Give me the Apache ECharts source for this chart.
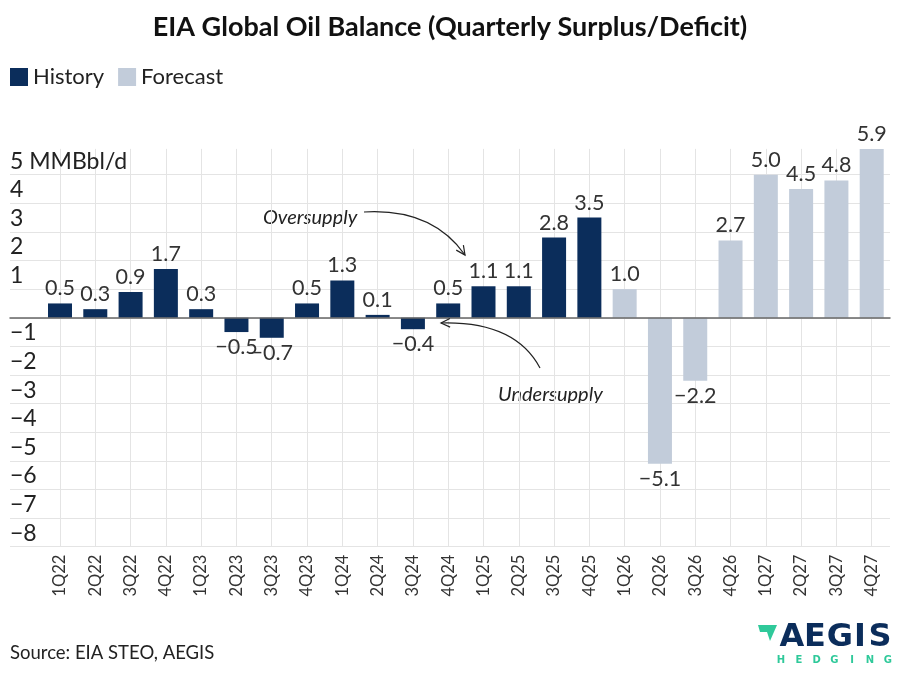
<!DOCTYPE html>
<html>
<head>
<meta charset="utf-8">
<script src="https://cdn.jsdelivr.net/npm/echarts@6/dist/echarts.min.js"></script>
<style>
  html, body { margin: 0; padding: 0; background: #fff; }
  #main { width: 900px; height: 675px; }
</style>
</head>
<body>
<div id="main"></div>
<script>
// quarters
var quarters = ['1Q22', '2Q22', '3Q22', '4Q22', '1Q23', '2Q23', '3Q23', '4Q23',
    '1Q24', '2Q24', '3Q24', '4Q24', '1Q25', '2Q25', '3Q25', '4Q25',
    '1Q26', '2Q26', '3Q26', '4Q26', '1Q27', '2Q27', '3Q27', '4Q27'];
// history values (MMBbl/d), '-' = no value
var historyVals = [0.5, 0.3, 0.9, 1.7, 0.3, -0.5, -0.7, 0.5,
    1.3, 0.1, -0.4, 0.5, 1.1, 1.1, 2.8, 3.5,
    '-', '-', '-', '-', '-', '-', '-', '-'];
// forecast values
var forecastVals = ['-', '-', '-', '-', '-', '-', '-', '-',
    '-', '-', '-', '-', '-', '-', '-', '-',
    1.0, -5.1, -2.2, 2.7, 5.0, 4.5, 4.8, 5.9];
// y ticks
var yMin = -8, yTop = 5, yMax = 5.9;

var FONT = 'Lato';
var HIST_COLOR = '#0b2d5b';
var FC_COLOR = '#c2ccda';

function fmt(v) {
    return v.toFixed(1).replace('-', '\u2212');
}
// label below bar when negative
function toItems(arr) {
    return arr.map(function (v) {
        if (v === '-') return '-';
        return {
            value: v,
            label: {position: v < 0 ? 'bottom' : 'top'}
        };
    });
}

// arrowhead at end of quadratic curve
function arrowHead(x2, y2, cx, cy) {
    var a = Math.atan2(y2 - cy, x2 - cx);
    var L = 10, s = 0.45;
    return {
        type: 'polyline',
        z: 10,
        shape: {points: [
            [x2 - L * Math.cos(a - s), y2 - L * Math.sin(a - s)],
            [x2, y2],
            [x2 - L * Math.cos(a + s), y2 - L * Math.sin(a + s)]
        ]},
        style: {stroke: '#222', lineWidth: 1.2, fill: null}
    };
}

var chart = echarts.init(document.getElementById('main'));

var gridBottom = 128.3;

// logo letters
var logoLetters = [['A', 792], ['E', 815], ['G', 840], ['I', 860], ['S', 880]];
var subLetters = 'HEDGING'.split('');
var logo = [];
logoLetters.forEach(function (p) {
    logo.push({
        type: 'text', x: p[1], y: 622,
        style: {text: p[0], font: 'bold 32px "DejaVu Sans"', fill: '#0b2d5b', align: 'center'}
    });
});
subLetters.forEach(function (c, i) {
    logo.push({
        type: 'text', x: 781 + i * 17.8, y: 655,
        style: {text: c, font: 'bold 10px "DejaVu Sans"', fill: '#2fc99a', align: 'center'}
    });
});
logo.push({
    type: 'polygon',
    shape: {points: [[758, 625], [777, 625], [770, 641], [767, 632], [760, 632]]},
    style: {fill: '#2fc99a'}
});

chart.setOption({
    animation: false,
    textStyle: {fontFamily: FONT},
    title: {
        text: 'EIA Global Oil Balance (Quarterly Surplus/Deficit)',
        left: 'center',
        top: 9,
        textStyle: {fontFamily: FONT, fontSize: 27, fontWeight: 'bold', color: '#111'}
    },
    legend: {
        left: 10,
        top: 66,
        padding: 0,
        icon: 'rect',
        itemWidth: 18,
        itemHeight: 18,
        itemGap: 14,
        textStyle: {fontFamily: FONT, fontSize: 22, color: '#222'},
        data: ['History', 'Forecast']
    },
    grid: [
        // horizontal gridlines + y labels
        {left: 10, right: 10, top: 174.7, bottom: gridBottom},
        // bars
        {left: 60, right: 28.3, top: 148.9, bottom: gridBottom}
    ],
    xAxis: [
        {
            gridIndex: 0, type: 'value', min: 0, max: 1, z: 5,
            axisLabel: {show: false}, axisTick: {show: false}, splitLine: {show: false},
            axisLine: {show: true, onZero: true, lineStyle: {color: '#666', width: 1.5}}
        },
        {
            gridIndex: 1, type: 'category', data: quarters, boundaryGap: false,
            axisLine: {show: false, onZero: false},
            axisTick: {show: false},
            splitLine: {show: true, interval: 0, lineStyle: {color: '#e4e4e4', width: 1}},
            axisLabel: {interval: 0, rotate: 90, margin: 8, fontSize: 16.5, color: '#333', fontFamily: FONT}
        }
    ],
    yAxis: [
        {
            gridIndex: 0, type: 'value', min: yMin, max: yTop, interval: 1,
            axisLine: {show: false}, axisTick: {show: false},
            splitLine: {lineStyle: {color: '#e4e4e4', width: 1}},
            axisLabel: {
                inside: true, margin: 0, align: 'left', verticalAlign: 'bottom',
                padding: [0, 0, 2, 0],
                fontSize: 23, color: '#222', fontFamily: FONT,
                formatter: function (v) {
                    if (v === 0) return '';
                    if (v === 5) return '5 MMBbl/d';
                    return String(v).replace('-', '\u2212');
                }
            }
        },
        {
            gridIndex: 1, type: 'value', min: yMin, max: yMax,
            show: false, splitLine: {show: false}
        }
    ],
    series: [
        {
            name: 'History', type: 'bar', xAxisIndex: 1, yAxisIndex: 1,
            barWidth: 24, barGap: '-100%',
            itemStyle: {color: HIST_COLOR},
            label: {show: true, distance: 4, fontSize: 21.5, color: '#333', fontFamily: FONT,
                formatter: function (p) { return fmt(p.value); }},
            data: toItems(historyVals)
        },
        {
            name: 'Forecast', type: 'bar', xAxisIndex: 1, yAxisIndex: 1,
            barWidth: 24, barGap: '-100%',
            itemStyle: {color: FC_COLOR},
            label: {show: true, distance: 4, fontSize: 21.5, color: '#333', fontFamily: FONT,
                formatter: function (p) { return fmt(p.value); }},
            data: toItems(forecastVals)
        }
    ],
    graphic: [
        {type: 'text', x: 263, y: 208,
            style: {text: 'Oversupply', font: 'italic 20px Lato', fill: '#222'}},
        {type: 'bezierCurve', z: 10,
            shape: {x1: 364, y1: 212, cpx1: 432, cpy1: 208, x2: 465, y2: 255},
            style: {stroke: '#222', lineWidth: 1.2, fill: null}},
        arrowHead(465, 255, 432, 208),
        {type: 'text', x: 498, y: 385,
            style: {text: 'Undersupply', font: 'italic 20px Lato', fill: '#222'}},
        {type: 'bezierCurve', z: 10,
            shape: {x1: 540, y1: 368, cpx1: 515, cpy1: 321, x2: 441, y2: 323},
            style: {stroke: '#222', lineWidth: 1.2, fill: null}},
        arrowHead(441, 323, 515, 321),
        {type: 'text', x: 10, y: 644,
            style: {text: 'Source: EIA STEO, AEGIS', font: '18.5px Lato', fill: '#222'}}
    ].concat(logo)
});
</script>
</body>
</html>
